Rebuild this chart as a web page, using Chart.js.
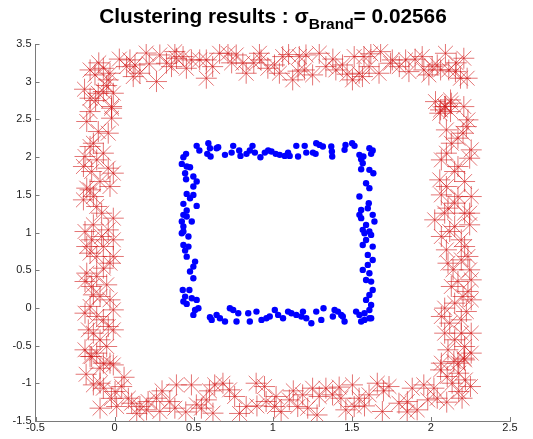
<!DOCTYPE html>
<html>
<head>
<meta charset="utf-8">
<script src="https://cdn.jsdelivr.net/npm/chart.js@4/dist/chart.umd.min.js"></script>
<style>
  html, body { margin: 0; padding: 0; background: #fff; }
  #wrap { position: relative; width: 533px; height: 439px; }
  #c { position: absolute; left: 0; top: 0; }
  #title { position: absolute; left: 36px; top: 4px; width: 474px; text-align: center;
           font-family: "Liberation Sans", Arial, sans-serif; font-weight: bold; font-size: 20.8px;
           color: #000; white-space: nowrap; }
  #title sub { font-size: 15.5px; vertical-align: -6px; line-height: 0; }
</style>
</head>
<body>
<div id="wrap">
  <canvas id="c" width="533" height="439"></canvas>
  <div id="title">Clustering results : &sigma;<sub>Brand</sub>= 0.02566</div>
</div>
<script>
// Inner cluster (blue dots)
const innerX = [
0.452,0.435,0.425,0.519,0.536,0.593,0.603,0.586,0.607,0.645,0.655,0.698,0.740,0.750,0.788,0.796,0.834,0.855,0.872,0.887,
0.922,0.950,0.971,0.992,1.019,1.044,1.076,1.097,1.107,1.149,1.160,1.202,1.212,1.254,1.275,1.271,1.296,1.317,1.370,1.374,
1.376,1.460,1.454,1.502,1.517,1.548,1.559,1.573,1.611,1.622,1.632,
1.569,1.559,1.611,1.636,1.590,1.611,1.548,1.607,1.601,1.559,1.548,1.632,1.643,1.559,1.590,1.569,1.611,
0.456,0.477,0.446,0.452,0.498,0.519,0.498,0.456,0.498,0.477,0.435,0.519,0.456,0.435,0.456,0.425,0.488,0.435,0.435,
0.425,0.467,0.435,0.467,0.446,0.456,0.509,0.498,0.477,0.498,0.431,0.473,0.446,0.488,0.519,0.435,0.456,0.509,0.530,0.498,
0.603,0.614,0.645,0.666,0.698,0.729,0.750,0.771,0.782,0.845,0.855,0.897,0.929,0.960,0.981,1.013,1.034,1.065,1.097,1.118,
1.149,1.181,1.191,1.212,1.244,1.275,1.307,1.321,1.380,1.391,1.412,1.433,1.454,1.443,1.527,1.548,1.559,1.611,1.580,
1.580,1.622,1.590,1.569,1.632,1.601,1.632,1.601,1.569,1.611,1.590,1.622,1.632,1.611,1.590,1.622,1.611,1.580,1.622
];
const innerY = [
2.043,1.999,1.910,2.149,2.087,2.184,2.118,2.043,2.007,2.118,2.131,2.030,2.060,2.149,2.087,2.016,2.043,2.087,2.149,2.060,
1.999,2.060,2.087,2.074,2.043,2.030,2.016,2.060,2.016,2.149,2.007,2.149,2.060,2.060,2.184,2.043,2.162,2.140,2.140,2.074,
2.007,2.162,2.096,2.184,2.149,2.030,1.972,2.007,2.118,2.043,2.087,
1.919,1.839,1.831,1.786,1.654,1.588,1.477,1.389,1.322,1.300,1.234,1.234,1.146,1.190,1.101,1.035,1.013,
1.875,1.866,1.786,1.707,1.742,1.676,1.610,1.512,1.499,1.455,1.380,1.353,1.291,1.234,1.212,1.146,1.146,1.079,1.013,
0.990,0.946,0.835,0.813,0.760,0.680,0.614,0.548,0.482,0.393,0.238,0.238,0.150,0.128,0.106,0.084,0.053,-0.027,-0.005,-0.093,
-0.124,-0.159,-0.093,-0.137,-0.181,-0.005,-0.027,-0.181,-0.071,-0.071,-0.181,-0.049,-0.159,-0.137,-0.115,-0.027,-0.093,-0.137,-0.049,-0.071,
-0.093,-0.115,-0.049,-0.137,-0.204,-0.049,-0.159,-0.005,-0.115,-0.027,-0.049,-0.093,-0.181,-0.115,-0.049,-0.093,-0.181,-0.137,-0.159,
0.990,0.968,0.901,0.835,0.813,0.703,0.636,0.570,0.504,0.459,0.371,0.349,0.238,0.172,0.106,0.040,-0.027,-0.071,-0.137
];
// Outer cluster (red stars)
const outerX = [
-0.155,-0.124,-0.071,-0.029,-0.040,-0.103,-0.155,-0.071,-0.008,-0.019,-0.155,0.097,0.076,0.129,0.118,0.160,0.219,0.265,0.286,0.328,
0.381,0.391,0.433,0.454,0.486,0.538,0.580,0.580,0.664,0.717,0.769,0.811,0.832,0.916,0.926,0.969,1.011,1.042,1.063,1.126,
1.168,1.210,1.200,1.252,1.294,1.336,1.399,1.441,1.515,1.504,1.546,1.567,1.577,1.609,1.672,1.682,1.745,1.756,1.840,1.861,
1.945,1.955,1.987,2.008,2.040,2.061,2.092,2.113,2.155,2.208,2.187,2.229,2.029,2.124,2.092,2.124,2.061,2.208,
0.030,0.200,0.360,0.620,0.740,0.880,1.100,1.160,1.380,1.470,1.620,1.800,1.900,2.160,-0.100,
-0.145,-0.008,-0.092,-0.134,-0.092,-0.071,0.003,0.045,-0.092,0.013,0.087,0.108,0.160,0.212,0.202,0.265,0.286,0.349,0.381,0.391,
0.486,0.517,0.549,0.580,0.622,0.633,0.685,0.727,0.759,0.832,0.895,0.948,0.958,1.011,1.021,1.053,1.105,1.158,1.189,1.221,
1.252,1.294,1.336,1.378,1.431,1.462,1.504,1.515,1.546,1.609,1.661,1.693,1.735,1.798,1.851,1.882,1.913,1.955,2.019,2.040,
2.061,2.103,2.134,2.176,2.197,2.145,2.208,2.176,2.218,2.250,
-0.020,0.140,0.300,0.450,0.600,0.790,0.900,1.130,1.280,1.420,1.580,1.700,1.850,1.980,2.100,-0.180,0.060,
-0.176,-0.019,-0.040,-0.103,-0.155,-0.071,-0.040,-0.008,-0.145,-0.176,-0.155,-0.134,-0.082,-0.134,-0.040,-0.145,-0.008,-0.071,-0.155,-0.029,
-0.176,-0.113,-0.145,-0.092,-0.155,-0.008,-0.071,-0.040,-0.166,-0.092,-0.155,-0.071,-0.029,-0.197,
-0.019,-0.134,-0.187,-0.113,-0.092,-0.029,-0.197,-0.113,-0.008,-0.187,-0.082,-0.176,-0.113,-0.008,-0.071,-0.187,-0.050,-0.134,-0.029,-0.187,
-0.113,-0.008,-0.134,-0.050,-0.187,-0.113,-0.190,-0.120,-0.050,
2.129,2.056,2.224,2.203,2.129,2.098,2.245,2.171,2.056,2.098,2.255,2.150,2.213,2.087,2.245,2.066,2.119,2.213,2.192,2.140,
2.255,2.171,2.203,2.087,2.224,2.119,2.192,2.150,2.213,2.213,2.066,
2.087,2.234,2.098,2.171,2.255,2.066,2.150,2.213,2.066,2.171,2.108,2.245,2.024,2.150,2.192,2.098,2.234,2.108,2.245,2.129,
2.234,2.150,2.255,2.066,2.192,2.087,2.255,2.108,2.255,2.171
];
const outerY = [
3.156,3.090,3.178,3.112,3.024,2.847,2.781,2.869,2.847,2.648,2.604,3.289,3.200,3.222,3.068,3.112,3.236,3.002,3.355,3.245,
3.399,3.311,3.333,3.178,3.289,3.289,3.046,3.289,3.377,3.377,3.355,3.245,3.112,3.377,3.289,3.178,3.222,3.112,3.333,3.024,
3.333,3.355,3.156,3.090,3.377,3.200,3.156,3.222,3.333,3.024,3.112,3.068,3.333,3.200,3.112,3.399,3.245,3.289,3.289,3.134,
3.333,3.156,3.090,3.200,3.222,3.156,3.377,3.156,3.134,3.311,3.046,3.046,2.736,2.758,2.670,2.604,2.626,2.670,
3.300,3.380,3.200,3.200,3.250,3.250,3.360,3.140,3.300,3.100,3.370,3.200,3.300,3.250,3.250,
-0.645,-0.756,-0.800,-1.021,-0.999,-1.065,-1.109,-1.043,-1.330,-1.308,-1.198,-1.264,-1.308,-1.242,-1.352,-1.198,-1.374,-1.242,-1.330,-1.021,
-1.021,-1.286,-1.330,-1.220,-1.396,-1.021,-0.999,-1.087,-1.175,-1.308,-0.999,-1.043,-1.242,-1.308,-1.175,-1.374,-1.220,-1.308,-1.153,-1.330,
-1.065,-1.175,-1.065,-1.153,-1.198,-1.352,-1.021,-1.308,-1.198,-1.153,-0.999,-1.374,-1.043,-1.264,-1.242,-1.065,-1.352,-1.021,-1.065,-1.198,
-0.822,-0.910,-0.999,-1.109,-1.198,-0.711,-0.667,-0.866,-0.955,-1.043,
-1.200,-1.400,-1.100,-1.380,-1.100,-1.400,-1.300,-1.100,-1.420,-1.050,-1.300,-1.100,-1.380,-1.220,-1.250,-0.880,-0.920,
2.472,2.671,2.317,2.339,2.140,2.052,1.853,1.787,1.809,1.588,1.566,1.477,1.256,1.102,1.035,0.903,0.903,0.814,0.726,0.593,
0.461,0.417,0.284,0.151,0.019,-0.026,-0.158,-0.247,-0.291,-0.423,-0.644,-0.733,-0.733,1.875,
2.516,2.184,2.008,1.963,1.676,1.610,1.433,1.345,1.190,1.013,0.947,0.814,0.682,0.682,0.527,0.350,0.306,0.173,0.107,-0.070,
-0.114,-0.291,-0.335,-0.512,-0.556,-0.600,2.900,2.750,2.950,
2.715,2.582,2.405,2.317,2.184,2.052,1.985,1.875,1.698,1.610,1.477,1.389,1.256,1.256,1.102,0.947,1.013,0.814,0.637,0.505,
0.372,0.350,0.151,-0.003,-0.048,-0.202,-0.335,-0.423,-0.512,-0.689,-0.733,
2.671,2.494,2.361,2.251,2.096,1.963,1.809,1.676,1.499,1.477,1.323,1.256,1.168,1.079,0.903,0.770,0.682,0.593,0.505,0.284,
0.218,0.063,0.107,-0.114,-0.158,-0.335,-0.335,-0.556,-0.600,-0.733
];

const toPoints = (xs, ys) => xs.map((x, i) => ({ x: x, y: ys[i] }));
const axisColor = '#7a7a7a';
const fmt = v => String(Math.round(v * 10) / 10);

const inwardTicks = {
  id: 'inwardTicks',
  afterDraw(chart) {
    const ctx = chart.ctx;
    const xs = chart.scales.x, ys = chart.scales.y;
    const a = chart.chartArea;
    ctx.save();
    ctx.strokeStyle = axisColor;
    ctx.lineWidth = 1;
    ctx.beginPath();
    xs.ticks.forEach(t => {
      const p = Math.round(xs.getPixelForValue(t.value)) + 0.5;
      ctx.moveTo(p, a.bottom); ctx.lineTo(p, a.bottom - 4);
    });
    ys.ticks.forEach(t => {
      const p = Math.round(ys.getPixelForValue(t.value)) + 0.5;
      ctx.moveTo(a.left, p); ctx.lineTo(a.left + 4, p);
    });
    ctx.stroke();
    ctx.restore();
  }
};

new Chart(document.getElementById('c'), {
  type: 'scatter',
  data: {
    datasets: [
      { label: 'outer', data: toPoints(outerX, outerY), pointStyle: 'star', pointRadius: 10.5,
        borderColor: 'rgba(210,25,25,0.6)', backgroundColor: 'rgba(210,25,25,0.6)', borderWidth: 1 },
      { label: 'inner', data: toPoints(innerX, innerY), pointStyle: 'circle', pointRadius: 3.2,
        backgroundColor: '#0000ff', borderColor: '#0000ff', borderWidth: 0 }
    ]
  },
  options: {
    responsive: false,
    animation: false,
    layout: { padding: { left: 0, top: 44, right: 23, bottom: 0 } },
    plugins: { legend: { display: false }, tooltip: { enabled: false }, title: { display: false } },
    scales: {
      x: {
        type: 'linear', min: -0.5, max: 2.5,
        ticks: { stepSize: 0.5, padding: 0, color: '#222', font: { family: 'Liberation Sans', size: 11 },
                 maxRotation: 0, autoSkip: false, callback: fmt },
        grid: { display: false, drawTicks: false, tickLength: 0 },
        border: { display: true, color: axisColor, width: 1 },
        afterFit: s => { s.height = 18; }
      },
      y: {
        type: 'linear', min: -1.5, max: 3.5,
        ticks: { stepSize: 0.5, padding: 4, color: '#222', font: { family: 'Liberation Sans', size: 11 },
                 autoSkip: false, callback: fmt },
        grid: { display: false, drawTicks: false, tickLength: 0 },
        border: { display: true, color: axisColor, width: 1 },
        afterFit: s => { s.width = 35.5; }
      }
    }
  },
  plugins: [inwardTicks]
});
</script>
</body>
</html>
